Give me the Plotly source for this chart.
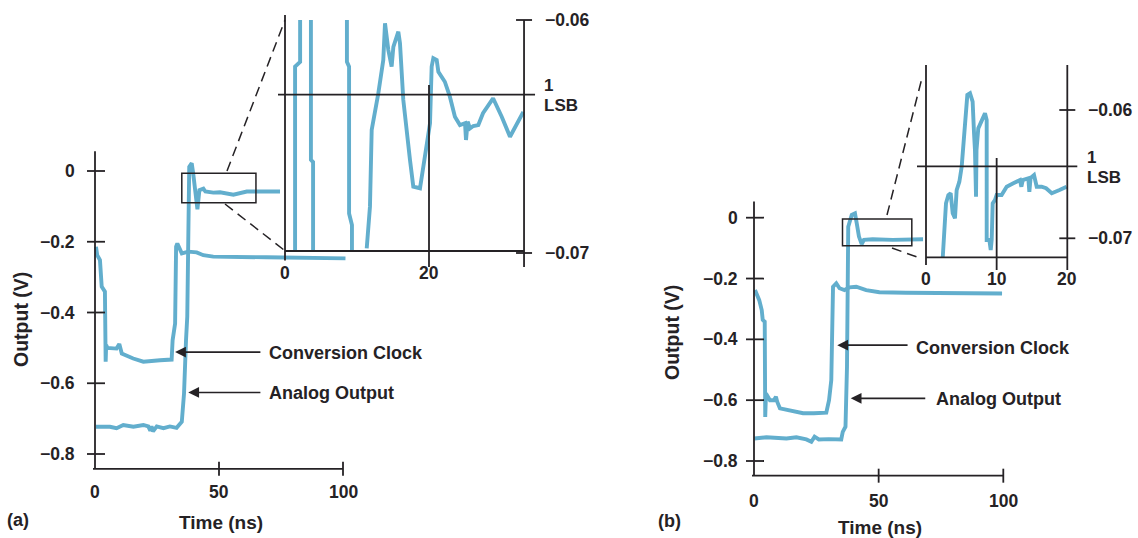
import plotly.graph_objects as go

W, H = 1138, 538
BLUE = "#62aecd"
INK = "#252225"
FONT = "Liberation Sans, Arial, sans-serif"

# ------------------------------------------------------------------ data
# panel (a) main traces (time in ns, output in V)
a_clock_t = [0.4, 0.9, 2.0, 2.7, 4.0, 4.3, 4.5, 5.0, 6.7, 8.7, 9.8, 10.8, 15.4, 19.5, 26.2, 30.9,
             31.3, 32.3, 32.7, 33.2, 35.0, 37.6, 41.0, 43.7, 47.7, 55.8, 69.2, 101.0]
a_clock_v = [-0.214, -0.238, -0.252, -0.327, -0.341, -0.539, -0.492, -0.500, -0.502, -0.502, -0.489,
             -0.516, -0.530, -0.539, -0.535, -0.533, -0.478, -0.431, -0.214, -0.205, -0.233, -0.228,
             -0.230, -0.238, -0.242, -0.242, -0.244, -0.247]
a_analog_t = [0.4, 6.0, 8.7, 11.4, 15.5, 19.5, 21.5, 22.3, 22.8, 23.4, 24.9, 27.6, 30.2, 32.9, 35.0,
              35.9, 36.7, 37.2, 38.0, 39.0, 39.6, 40.3, 41.3, 42.1, 43.7, 44.5, 47.7, 50.4, 55.8,
              61.2, 74.6]
a_analog_v = [-0.723, -0.723, -0.727, -0.718, -0.723, -0.718, -0.722, -0.734, -0.722, -0.736, -0.722,
              -0.727, -0.722, -0.726, -0.709, -0.629, -0.478, -0.412, 0.012, 0.022, -0.007, -0.044,
              -0.108, -0.054, -0.050, -0.058, -0.061, -0.060, -0.067, -0.058, -0.058]

# panel (a) inset (zoomed analog output, 0-33 ns)
a_zoom_t = [1.4, 1.4, 2.1, 2.1, None,
            3.6, 3.6, 3.9, 3.9, None,
            8.6, 8.6, 8.9, 8.9, 9.3, 9.3, None,
            11.35, 11.8, 12.04, 12.96, 13.65, 13.89, 14.35, 14.81, 15.05, 15.74, 15.97, 16.43,
            17.36, 17.82, 18.75, 19.2, 19.9, 20.14, 20.37, 20.6, 21.07, 21.3, 22.2, 22.9, 23.6,
            24.3, 25.0, 25.14, 25.37, 25.7, 26.15, 26.85, 27.5, 28.9, 30.1, 31.25, 33.1]
a_zoom_v = [-0.0705, -0.0620, -0.0618, -0.0595, None,
            -0.0595, -0.0660, -0.0661, -0.0705, None,
            -0.0595, -0.0618, -0.0620, -0.0683, -0.0688, -0.0699, None,
            -0.06980, -0.06801, -0.06472, -0.06315, -0.06172, -0.06014, -0.06129, -0.06200,
            -0.06115, -0.06050, -0.06100, -0.06343, -0.06601, -0.06715, -0.06722, -0.06630,
            -0.06486, -0.06443, -0.06200, -0.06164, -0.06172, -0.06222, -0.06265, -0.06329,
            -0.06415, -0.06451, -0.06443, -0.06515, -0.06436, -0.06465, -0.06455, -0.06451,
            -0.06400, -0.06336, -0.06415, -0.06501, -0.06394]

# panel (b) main traces
b_clock_t = [0.4, 1.3, 2.1, 3.1, 3.5, 4.3, 4.5, 4.8, 6.4, 8.0, 8.8, 9.3, 10.4, 14.4, 19.7, 24.0, 29.0,
             30.1, 31.0, 31.7, 33.0, 34.3, 36.3, 38.3, 41.0, 45.0, 50.3, 60.9, 99.5]
b_clock_v = [-0.238, -0.254, -0.271, -0.304, -0.336, -0.342, -0.655, -0.578, -0.600, -0.600, -0.589,
             -0.605, -0.627, -0.633, -0.643, -0.643, -0.641, -0.600, -0.534, -0.227, -0.216, -0.232,
             -0.238, -0.229, -0.227, -0.238, -0.245, -0.247, -0.249]
b_analog_t = [0.1, 5.0, 13.0, 17.0, 21.0, 23.0, 24.3, 26.0, 30.0, 35.0, 35.6, 36.7, 37.3, 37.8, 39.2,
              40.5, 41.2, 42.1, 43.2, 44.1, 47.6, 55.6, 67.8]
b_analog_v = [-0.726, -0.722, -0.726, -0.722, -0.729, -0.737, -0.720, -0.729, -0.728, -0.729, -0.704,
              -0.687, -0.490, -0.030, 0.009, 0.014, -0.018, -0.062, -0.087, -0.073, -0.071, -0.073,
              -0.071]

# panel (b) inset (zoomed analog output, 0-20 ns)
b_zoom_t = [2.36, 2.55, 2.83, 3.16, 3.49, 3.78, 4.10, 4.34, 4.72, 5.05, 5.28, 5.66, 5.85, 6.23, 6.60,
            6.80, 6.93, 7.08, 7.15, 7.40, 7.88, 8.35, 8.59, 8.59, 8.97, 9.16, 9.30, 9.44, 9.77, 10.0,
            10.7, 11.42, 12.36, 13.3, 13.5, 13.7, 14.48, 14.63, 14.8, 15.29, 15.67, 16.37, 17.0,
            17.8, 18.9, 19.9]
b_zoom_v = [-0.0716, -0.07013, -0.06727, -0.06663, -0.06649, -0.06805, -0.06844, -0.06624,
            -0.06559, -0.06442, -0.06286, -0.06104, -0.05883, -0.05870, -0.05935, -0.06182,
            -0.06312, -0.06676, -0.06312, -0.06143, -0.06091, -0.06026, -0.06078, -0.07013,
            -0.07013, -0.07091, -0.07013, -0.06727, -0.06701, -0.06663, -0.06663, -0.06598,
            -0.06571, -0.06546, -0.06598, -0.06546, -0.06532, -0.06637, -0.06530, -0.06507,
            -0.06598, -0.06598, -0.06610, -0.06649, -0.06624, -0.06598]

main_x_ticks = [0, 50, 100]
main_y_ticks = [0, -0.2, -0.4, -0.6, -0.8]
main_y_labels = ["0", "\u22120.2", "\u22120.4", "\u22120.6", "\u22120.8"]
inset_a_x_ticks = [0, 20]
inset_b_x_ticks = [0, 10, 20]
inset_y_ticks = [-0.06, -0.07]
inset_y_labels = ["\u22120.06", "\u22120.07"]
lsb_a = -0.0632
lsb_b = -0.0644


# ------------------------------------------------------------------ geometry
class Ax:
    """linear axis placed on the page: value v_a at pixel p_a, v_b at p_b."""

    def __init__(self, p_lo, p_hi, v_a, p_a, v_b, p_b, vertical):
        self.k = (p_b - p_a) / (v_b - v_a)
        self.v_a, self.p_a, self.vertical = v_a, p_a, vertical
        if vertical:
            self.domain = [1 - p_hi / H, 1 - p_lo / H]
            self.range = [self.val(p_hi), self.val(p_lo)]
        else:
            self.domain = [p_lo / W, p_hi / W]
            self.range = [self.val(p_lo), self.val(p_hi)]

    def val(self, p):
        return self.v_a + (p - self.p_a) / self.k

    def pix(self, v):
        return self.p_a + (v - self.v_a) * self.k


AXa = Ax(85, 355, 0, 95, 100, 343, False)
AYa = Ax(140, 480, 0, 171, -0.8, 454, True)
IXa = Ax(285, 524, 0, 285, 20, 429, False)
IYa = Ax(20, 251, -0.06, 20, -0.07, 253, True)
AXb = Ax(744, 1015, 0, 754, 100, 1003.3, False)
AYb = Ax(190, 490, 0, 217.7, -0.8, 461, True)
IXb = Ax(926, 1067.3, 0, 926, 20, 1067.3, False)
IYb = Ax(65, 257.3, -0.06, 110, -0.07, 238.3, True)


def PX(p):
    return p / W


def PY(p):
    return 1 - p / H


shapes = []
annotations = []


def seg(x0, y0, x1, y1, width=1.8, dash=None, color=INK):
    line = dict(color=color, width=width)
    if dash:
        line["dash"] = dash
    shapes.append(dict(type="line", xref="paper", yref="paper",
                       x0=PX(x0), y0=PY(y0), x1=PX(x1), y1=PY(y1), line=line))


def text(x, y, s, size=17, xanchor="center", yanchor="middle", angle=0):
    annotations.append(dict(xref="paper", yref="paper", x=PX(x), y=PY(y), text=s,
                            showarrow=False, xanchor=xanchor, yanchor=yanchor, textangle=angle,
                            font=dict(family=FONT, size=size, color=INK, weight="bold")))


def arrow(tip_x, tip_y, tail_x):
    annotations.append(dict(xref="paper", yref="paper", x=PX(tip_x), y=PY(tip_y), text="",
                            showarrow=True, ax=tail_x - tip_x, ay=0, axref="pixel", ayref="pixel",
                            arrowhead=2, arrowsize=1.35, arrowwidth=1.6, arrowcolor=INK,
                            standoff=0, startstandoff=0))


def main_panel(AX, AY, y_top, y_axis, ylab_off, xlab_dy, title_xy, ytitle_xy, tag_xy, tag):
    x0 = AX.pix(0)
    yb = AY.pix(y_axis)
    seg(x0, AY.pix(y_top), x0, yb)
    seg(x0 - 2, yb, AX.pix(100), yb)
    for v, lab in zip(main_y_ticks, main_y_labels):
        py = AY.pix(v)
        seg(x0 - 8, py, x0 + 10, py)
        text(x0 - ylab_off, py, lab, size=17.5, xanchor="right")
    for v in main_x_ticks:
        px = AX.pix(v)
        if v != 0:
            seg(px, yb - 7, px, yb + 7)
        text(px, yb + xlab_dy, str(v), size=17.5)
    text(title_xy[0], title_xy[1], "Time (ns)", size=19)
    text(ytitle_xy[0], ytitle_xy[1], "Output (V)", size=19.5, angle=-90)
    text(tag_xy[0], tag_xy[1], tag, size=18)


def inset_panel(IX, IY, x_ticks, x_right, lsb, left_top, right_top, vline_top, tick_bot,
                lsb_ext, lab_dy):
    x0 = IX.pix(0)
    xr = IX.pix(x_right)
    yb = IY.pix(IY.range[0])
    seg(x0, left_top, x0, yb + (tick_bot - yb) * 0.6)
    seg(x0, yb, xr, yb)
    seg(xr, right_top, xr, tick_bot)
    for v in x_ticks[1:]:
        px = IX.pix(v)
        if abs(px - xr) > 2:
            seg(px, vline_top, px, tick_bot)
    for v in x_ticks:
        text(IX.pix(v), tick_bot + lab_dy, str(v), size=17.5)
    for v, lab in zip(inset_y_ticks, inset_y_labels):
        py = IY.pix(v)
        seg(xr - 8, py, xr + 8, py)
        text(xr + 19, py, lab, size=17.5, xanchor="left")
    py = IY.pix(lsb)
    seg(x0 - lsb_ext[0], py, xr + lsb_ext[1], py)
    text(xr + 18, py - 9, "1", size=17, xanchor="left")
    text(xr + 18, py + 11, "LSB", size=17, xanchor="left")


# ---- panel (a)
main_panel(AXa, AYa, 0.056, -0.842, 18, 23, (221, 522), (21, 320), (18, 520), "(a)")
inset_panel(IXa, IYa, inset_a_x_ticks, 33.2, lsb_a, 15, 20, 85, 267, (7, 11), 6)
box_a = dict(x0=35.0, x1=64.9, y0=-0.0896, y1=-0.0065)
shapes.append(dict(type="rect", xref="x", yref="y", line=dict(color=INK, width=1.5), **box_a))
seg(227, 171, 285, 20, width=1.5, dash="10px,6px")
seg(225, 204, 284, 250, width=1.5, dash="10px,6px")
arrow(AXa.pix(32.3), AYa.pix(-0.512), AXa.pix(67.3))
arrow(AXa.pix(37.6), AYa.pix(-0.626), AXa.pix(67.3))
text(267, 353, "Conversion Clock", size=18, xanchor="left")
text(267, 393, "Analog Output", size=18, xanchor="left")

# ---- panel (b)
main_panel(AXb, AYb, 0.053, -0.8483, 14, 25, (880, 527), (672, 333), (669, 521), "(b)")
inset_panel(IXb, IYb, inset_b_x_ticks, 20, lsb_b, 65, 65, 158, 270, (9, 10), 9)
box_b = dict(x0=35.5, x1=63.3, y0=-0.0921, y1=-0.0043)
shapes.append(dict(type="rect", xref="x3", yref="y3", line=dict(color=INK, width=1.5), **box_b))
seg(887, 215, 922, 78, width=1.5, dash="10px,6px")
seg(892, 248, 917, 257, width=1.5, dash="10px,6px")
arrow(AXb.pix(33.4), AYb.pix(-0.419), AXb.pix(62.2))
arrow(AXb.pix(38.8), AYb.pix(-0.594), AXb.pix(69.3))
text(914, 348, "Conversion Clock", size=18, xanchor="left")
text(934, 399, "Analog Output", size=18, xanchor="left")

# ------------------------------------------------------------------ figure
fig = go.Figure()
line = dict(color=BLUE, width=3.9)
fig.add_trace(go.Scatter(x=a_clock_t, y=a_clock_v, mode="lines", line=line, xaxis="x", yaxis="y",
                         name="Conversion Clock"))
fig.add_trace(go.Scatter(x=a_analog_t, y=a_analog_v, mode="lines", line=line, xaxis="x", yaxis="y",
                         name="Analog Output"))
fig.add_trace(go.Scatter(x=a_zoom_t, y=a_zoom_v, mode="lines", line=line, xaxis="x2", yaxis="y2",
                         connectgaps=False, name="Analog Output (zoom)"))
fig.add_trace(go.Scatter(x=b_clock_t, y=b_clock_v, mode="lines", line=line, xaxis="x3", yaxis="y3",
                         name="Conversion Clock"))
fig.add_trace(go.Scatter(x=b_analog_t, y=b_analog_v, mode="lines", line=line, xaxis="x3",
                         yaxis="y3", name="Analog Output"))
fig.add_trace(go.Scatter(x=b_zoom_t, y=b_zoom_v, mode="lines", line=line, xaxis="x4", yaxis="y4",
                         name="Analog Output (zoom)"))


def hid(ax, anchor):
    return dict(domain=ax.domain, range=ax.range, anchor=anchor, visible=False, fixedrange=True)


fig.update_layout(
    width=W, height=H, autosize=False,
    margin=dict(l=0, r=0, t=0, b=0),
    paper_bgcolor="white", plot_bgcolor="rgba(0,0,0,0)",
    showlegend=False,
    xaxis=hid(AXa, "y"), yaxis=hid(AYa, "x"),
    xaxis2=hid(IXa, "y2"), yaxis2=hid(IYa, "x2"),
    xaxis3=hid(AXb, "y3"), yaxis3=hid(AYb, "x3"),
    xaxis4=hid(IXb, "y4"), yaxis4=hid(IYb, "x4"),
    shapes=shapes, annotations=annotations,
    font=dict(family=FONT, color=INK),
)

fig.write_html("out.html", config={"displayModeBar": False, "staticPlot": True},
               post_script="document.body.style.margin='0';document.body.style.overflow='hidden';")
